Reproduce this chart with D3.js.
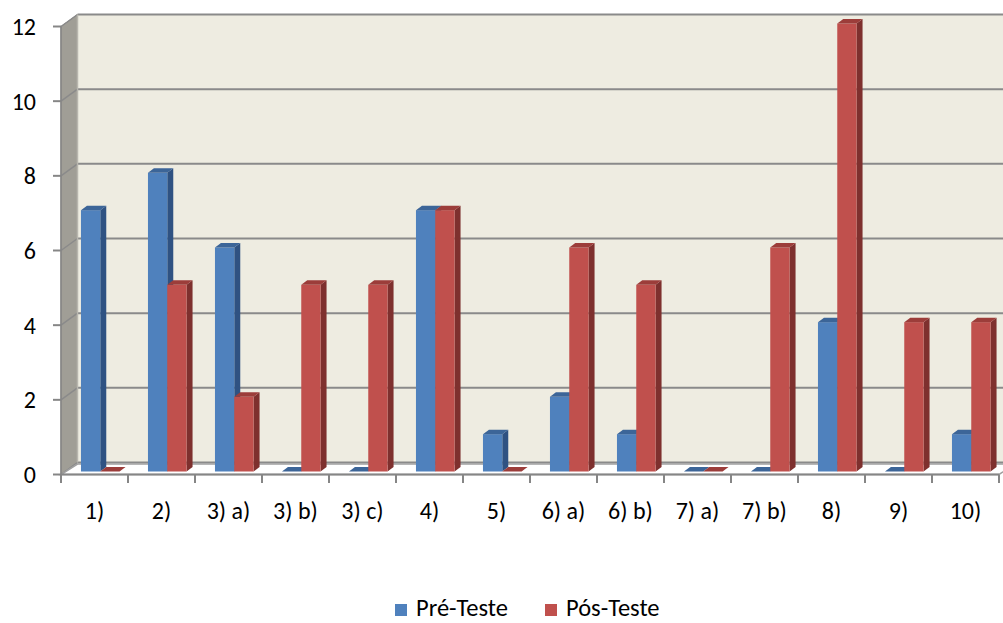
<!DOCTYPE html>
<html>
<head>
<meta charset="utf-8">
<script src="https://cdn.jsdelivr.net/npm/d3@7"></script>
<style>
  html, body { margin: 0; padding: 0; background: #ffffff; }
  svg { display: block; }
  text { font-family: Carlito, Calibri, Lato, "Open Sans", sans-serif; fill: #000; }
</style>
</head>
<body>
<svg id="chart" width="1003" height="623"></svg>
<script>
// Question labels on the category axis
const categories = ["1)", "2)", "3) a)", "3) b)", "3) c)", "4)", "5)", "6) a)", "6) b)", "7) a)", "7) b)", "8)", "9)", "10)"];
// Correct answers per question
const preTeste = [7, 8, 6, 0, 0, 7, 1, 2, 1, 0, 0, 4, 0, 1];
const posTeste = [0, 5, 2, 5, 5, 7, 0, 6, 5, 0, 6, 12, 4, 4];
const seriesNames = ["Pré-Teste", "Pós-Teste"];
const yTicks = [0, 2, 4, 6, 8, 10, 12];

const faceColors = [
  { front: "#4F81BD", side: "#2F5282", top: "#3C6598" },
  { front: "#C0504D", side: "#7E302E", top: "#9C3D3A" }
];

const svg = d3.select("#chart");

// Front plane of the 3D box
const x = d3.scaleBand().domain(categories).range([61, 999]);
const y = d3.scaleLinear().domain([0, 12]).range([474.5, 26.5]);
const bw = x.bandwidth();
const xs = d3.scaleBand().domain(seriesNames).range([bw * 0.298, bw * 0.874]);

// Depth offsets: full box depth and the bars' own depth
const D = { dx: 16.5, dy: -12 };
const B0 = { dx: 0, dy: -3 };      // bar front face relative to front plane
const BD = { dx: 6, dy: -4.5 };    // bar thickness

const x0 = x.range()[0], x1 = x.range()[1];
const pts = a => a.map(p => p.join(",")).join(" ");

// Side wall
svg.append("polygon")
  .attr("points", pts([[x0, y(0)], [x0, y(12)], [x0 + D.dx, y(12) + D.dy], [x0 + D.dx, y(0) + D.dy]]))
  .attr("fill", "#A09E96").attr("stroke", "#8C8A84").attr("stroke-width", 1);

// Back wall
svg.append("rect")
  .attr("x", x0 + D.dx).attr("y", y(12) + D.dy)
  .attr("width", x1 - x0).attr("height", y(0) - y(12))
  .attr("fill", "#EEECE1");

// Gridlines on back and side walls
const grid = svg.append("g");
yTicks.forEach(t => {
  grid.append("line")
    .attr("x1", x0 + D.dx).attr("x2", x1 + D.dx)
    .attr("y1", y(t) + D.dy).attr("y2", y(t) + D.dy)
    .attr("stroke", "#8A8A8A").attr("stroke-width", 2);
  grid.append("line")
    .attr("x1", x0).attr("x2", x0 + D.dx)
    .attr("y1", y(t)).attr("y2", y(t) + D.dy)
    .attr("stroke", "#8A8A8A").attr("stroke-width", 1.5);
});
// Edge between side and back wall
svg.append("line")
  .attr("x1", x0 + D.dx).attr("x2", x0 + D.dx)
  .attr("y1", y(12) + D.dy).attr("y2", y(0) + D.dy)
  .attr("stroke", "#B8B6AE").attr("stroke-width", 1.5);

// Floor
svg.append("polygon")
  .attr("points", pts([[x0, y(0)], [x1, y(0)], [x1 + D.dx, y(0) + D.dy + 1.5], [x0 + D.dx, y(0) + D.dy + 1.5]]))
  .attr("fill", "#FFFFFF").attr("stroke", "#A0A0A0").attr("stroke-width", 1.5);

// Value axis: tick marks and labels
const yAxis = svg.append("g");
yTicks.forEach(t => {
  yAxis.append("line")
    .attr("x1", 53).attr("x2", x0).attr("y1", y(t)).attr("y2", y(t))
    .attr("stroke", "#868686").attr("stroke-width", 2);
  yAxis.append("text")
    .attr("x", 36).attr("y", y(t)).attr("dy", "0.36em")
    .attr("text-anchor", "end").attr("font-size", 24)
    .text(t);
});
svg.append("line")
  .attr("x1", x0).attr("x2", x0).attr("y1", y(12)).attr("y2", y(0))
  .attr("stroke", "#868686").attr("stroke-width", 1.5);

// Category axis
const xAxis = svg.append("g");
xAxis.append("line")
  .attr("x1", x0).attr("x2", x1).attr("y1", y(0)).attr("y2", y(0))
  .attr("stroke", "#868686").attr("stroke-width", 2);
categories.concat([null]).forEach((c, i) => {
  const xx = c === null ? x1 : x(c);
  xAxis.append("line")
    .attr("x1", xx).attr("x2", xx).attr("y1", y(0)).attr("y2", y(0) + 8.5)
    .attr("stroke", "#868686").attr("stroke-width", 2);
});
categories.forEach(c => {
  xAxis.append("text")
    .attr("x", x(c) + bw / 2).attr("y", 519)
    .attr("text-anchor", "middle").attr("font-size", 24)
    .text(c);
});

// 3D columns
const bars = svg.append("g");
categories.forEach((c, i) => {
  [preTeste[i], posTeste[i]].forEach((v, s) => {
    const col = faceColors[s];
    const L = x(c) + xs(seriesNames[s]) + B0.dx;
    const R = L + xs.bandwidth();
    const yb = y(0) + B0.dy;
    const yt = y(v) + B0.dy;
    const g = bars.append("g");
    if (v > 0) {
      g.append("polygon")
        .attr("points", pts([[R, yb], [R, yt], [R + BD.dx, yt + BD.dy], [R + BD.dx, yb + BD.dy]]))
        .attr("fill", col.side);
      g.append("rect")
        .attr("x", L).attr("y", yt).attr("width", R - L).attr("height", yb - yt)
        .attr("fill", col.front);
    }
    g.append("polygon")
      .attr("points", pts([[L, yt], [R, yt], [R + BD.dx, yt + BD.dy], [L + BD.dx, yt + BD.dy]]))
      .attr("fill", col.top);
  });
});

// Legend
const legendPos = [395, 545];
seriesNames.forEach((n, s) => {
  svg.append("rect")
    .attr("x", legendPos[s]).attr("y", 604).attr("width", 12).attr("height", 12)
    .attr("fill", faceColors[s].front);
  svg.append("text")
    .attr("x", legendPos[s] + 21).attr("y", 616)
    .attr("font-size", 24.5)
    .text(n);
});
</script>
</body>
</html>
